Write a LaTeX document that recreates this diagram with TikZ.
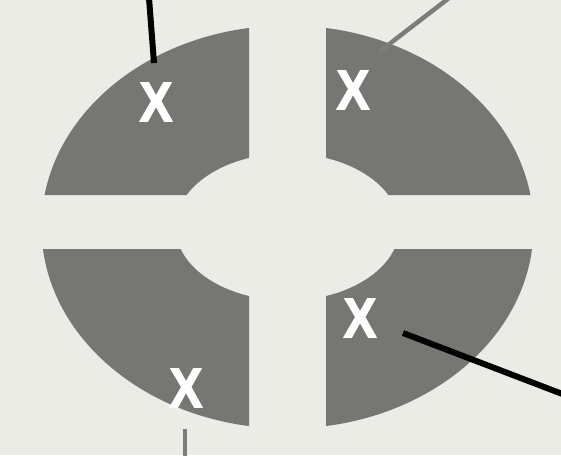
\documentclass[tikz,border=0pt]{standalone}
\usepackage{fontspec}
\newfontfamily\xfont{Liberation Sans}[UprightFont={* Bold}, FakeBold=2.5]
\definecolor{bgc}{HTML}{EBECE6}
\definecolor{shapec}{HTML}{767673}
\definecolor{greyline}{HTML}{7C7C7A}
\tikzset{
  xmark/.style={text=white, inner sep=0pt, font=\xfont\fontsize{56}{56}\selectfont, xscale=0.88},
  blackline/.style={draw=black, line width=6pt},
  greyconn/.style={draw=greyline, line width=4.5pt}
}
\begin{document}
\begin{tikzpicture}[x=1pt,y=-1pt]
\fill[bgc] (0,0) rectangle (561,455);
\useasboundingbox (0,0) rectangle (561,455);
\begin{scope}
  \clip (0,0) rectangle (249,195) (326,0) rectangle (561,195)
        (0,249) rectangle (249,455) (326,249) rectangle (561,455);
  \fill[shapec, even odd rule] (287.5,227) ellipse [x radius=246, y radius=201.5]
        (287.5,227) ellipse [x radius=112, y radius=73.5];
\end{scope}
\node[xmark] (xtl) at (156,102) {X};
\node[xmark] (xtr) at (353,90) {X};
\node[xmark] (xbl) at (186,388) {X};
\node[xmark] (xbr) at (360,318) {X};
\coordinate (tla) at (149,-2);
\coordinate (tlb) at (154,63);
\coordinate (tra) at (449,-2);
\coordinate (trb) at (379,52);
\coordinate (bra) at (403,333);
\coordinate (brb) at (565,395);
\coordinate (bla) at (185,429);
\coordinate (blb) at (185,457);
\draw[blackline] (tla) -- (tlb);
\draw[greyconn] (tra) -- (trb);
\draw[blackline] (bra) -- (brb);
\draw[greyconn] (bla) -- (blb);
\end{tikzpicture}
\end{document}
